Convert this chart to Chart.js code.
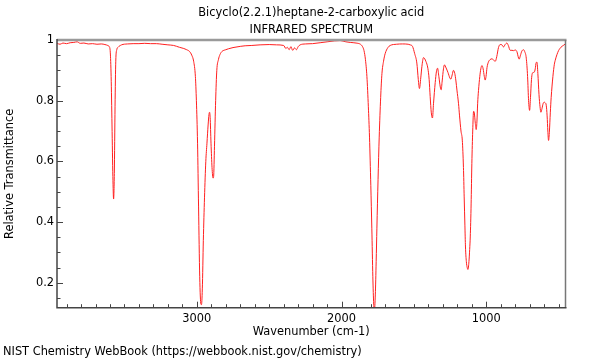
<!DOCTYPE html>
<html>
<head>
<meta charset="utf-8">
<script src="https://cdn.jsdelivr.net/npm/chart.js@4/dist/chart.umd.min.js"></script>
<style>
html,body{margin:0;padding:0;background:#fff;}
canvas{display:block;}
</style>
</head>
<body>
<canvas id="c" width="600" height="360"></canvas>
<script>
const chartTitle = ['Bicyclo(2.2.1)heptane-2-carboxylic acid', 'INFRARED SPECTRUM'];
const xAxisTitle = 'Wavenumber (cm-1)';
const yAxisTitle = 'Relative Transmittance';
const footerText = 'NIST Chemistry WebBook (https://webbook.nist.gov/chemistry)';
const xTickLabels = [3000, 2000, 1000];
const yTickLabels = [0.2, 0.4, 0.6, 0.8, 1];

const wavenumbers = [
3965,3945,3925,3900,3875,3850,3827,3805,3780,3750,3720,3690,3660,3635,3615,3605,
3598,3592,3586,3580,3575,3570,3565,3560,3553,3544,3520,3480,3440,3400,3360,3320,
3280,3240,3200,3160,3120,3090,3070,3050,3035,3022,3010,3003,2995,2988,2980,2972,
2968,2962,2955,2947,2938,2930,2922,2916,2912,2908,2902,2895,2888,2884,2878,2870,
2862,2851,2840,2827,2800,2782,2750,2700,2666,2620,2563,2500,2450,2400,2385,2375,
2362,2350,2338,2325,2312,2300,2286,2250,2200,2148,2100,2050,2010,1970,1940,1900,
1870,1855,1845,1835,1825,1815,1807,1798,1791,1784,1778,1773,1767,1761,1756,1748,
1740,1730,1721,1710,1699,1680,1664,1620,1580,1540,1526,1510,1495,1480,1470,1462,
1453,1445,1434,1417,1404,1395,1388,1380,1372,1365,1353,1345,1337,1328,1318,1312,
1305,1296,1289,1278,1265,1252,1245,1236,1227,1218,1210,1203,1192,1185,1175,1166,
1158,1153,1148,1144,1138,1132,1127,1120,1115,1111,1105,1100,1094,1088,1083,1076,
1070,1065,1060,1054,1045,1038,1030,1022,1014,1008,1002,995,985,975,961,950,
938,928,916,904,892,881,870,858,848,835,823,812,800,789,777,773,
765,755,743,735,724,715,708,701,695,688,683,676,669,662,656,650,
644,636,629,623,615,608,600,593,586,580,575,570,564,558,552,540,
530,524,512,501,490,478,465,455
];
const transmittance = [
0.989,0.986,0.990,0.988,0.991,0.992,0.994,0.989,0.990,0.987,0.988,0.986,0.987,0.985,0.982,0.978,
0.960,0.880,0.720,0.550,0.476,0.560,0.780,0.930,0.968,0.976,0.984,0.987,0.988,0.988,0.989,0.988,
0.988,0.986,0.984,0.982,0.976,0.972,0.968,0.962,0.950,0.930,0.880,0.800,0.660,0.450,0.220,0.130,
0.128,0.180,0.340,0.480,0.600,0.660,0.720,0.755,0.762,0.745,0.660,0.580,0.545,0.550,0.650,0.800,
0.900,0.935,0.952,0.962,0.968,0.971,0.975,0.979,0.981,0.982,0.984,0.985,0.984,0.982,0.972,0.976,
0.968,0.978,0.966,0.974,0.968,0.978,0.984,0.987,0.988,0.991,0.994,0.997,0.998,0.994,0.992,0.990,
0.986,0.978,0.965,0.935,0.880,0.780,0.680,0.520,0.380,0.220,0.130,0.110,0.160,0.270,0.380,0.540,
0.680,0.810,0.890,0.930,0.955,0.975,0.982,0.986,0.987,0.986,0.984,0.979,0.955,0.924,0.870,0.840,
0.875,0.913,0.942,0.929,0.907,0.870,0.814,0.760,0.743,0.790,0.860,0.895,0.907,0.880,0.845,0.836,
0.865,0.905,0.918,0.908,0.893,0.875,0.871,0.885,0.900,0.890,0.865,0.835,0.790,0.750,0.700,0.670,
0.580,0.483,0.390,0.318,0.270,0.250,0.244,0.270,0.310,0.351,0.460,0.593,0.700,0.765,0.760,0.725,
0.705,0.730,0.790,0.834,0.880,0.905,0.916,0.905,0.880,0.868,0.880,0.910,0.928,0.935,0.938,0.934,
0.930,0.945,0.975,0.985,0.984,0.977,0.985,0.990,0.982,0.966,0.966,0.965,0.967,0.962,0.940,0.937,
0.948,0.963,0.968,0.962,0.940,0.880,0.800,0.768,0.810,0.870,0.889,0.893,0.894,0.905,0.925,0.927,
0.890,0.820,0.780,0.762,0.775,0.790,0.795,0.793,0.785,0.750,0.700,0.669,0.700,0.760,0.810,0.880,
0.920,0.933,0.952,0.965,0.973,0.979,0.983,0.987
];

const FONT = '"DejaVu Sans", "Liberation Sans", sans-serif';
const FS = 11.4;
Chart.defaults.font.family = FONT;
Chart.defaults.font.size = FS;
Chart.defaults.color = '#000';

const framePlugin = {
  id: 'framePlugin',
  afterDraw(chart) {
    const {ctx, chartArea: a, scales: {x, y}} = chart;
    ctx.save();
    ctx.strokeStyle = '#444';
    ctx.lineWidth = 1;
    ctx.beginPath();
    for (let k = 5; k <= 39; k++) {
      const px = Math.round(x.getPixelForValue(k * 100)) + 0.5;
      const len = (k % 10 === 0) ? 6 : 3.5;
      ctx.moveTo(px, a.bottom);
      ctx.lineTo(px, a.bottom - len);
    }
    for (let k = 3; k <= 20; k++) {
      const py = Math.round(y.getPixelForValue(k * 0.05)) + 0.5;
      const len = (k % 4 === 0) ? 6 : 3.5;
      ctx.moveTo(a.left, py);
      ctx.lineTo(a.left + len, py);
    }
    ctx.stroke();
    ctx.lineWidth = 2.5;
    ctx.strokeStyle = '#9a9a9a';
    ctx.beginPath(); ctx.moveTo(a.left, a.top); ctx.lineTo(a.right + 1, a.top); ctx.stroke();
    ctx.lineWidth = 1.5;
    ctx.strokeStyle = '#777';
    ctx.beginPath(); ctx.moveTo(a.right, a.top); ctx.lineTo(a.right, a.bottom); ctx.stroke();
    ctx.strokeStyle = '#444';
    ctx.beginPath(); ctx.moveTo(a.left, a.top - 1); ctx.lineTo(a.left, a.bottom); ctx.lineTo(a.right + 1, a.bottom); ctx.stroke();
    ctx.fillStyle = '#000';
    ctx.font = FS + 'px ' + FONT;
    ctx.textAlign = 'left';
    ctx.textBaseline = 'middle';
    ctx.fillText(footerText, 3, 352);
    ctx.restore();
  }
};

new Chart(document.getElementById('c'), {
  type: 'line',
  data: {
    datasets: [{
      data: wavenumbers.map((w, i) => ({x: w, y: transmittance[i]})),
      borderColor: '#ff2020',
      borderWidth: 1,
      pointRadius: 0,
      fill: false,
      cubicInterpolationMode: 'monotone'
    }]
  },
  options: {
    responsive: false,
    animation: false,
    devicePixelRatio: 1,
    events: [],
    layout: {padding: {left: 0, right: 34.5, top: 0, bottom: 0}},
    plugins: {
      legend: {display: false},
      tooltip: {enabled: false},
      title: {
        display: true,
        text: chartTitle,
        fullSize: false,
        color: '#000',
        font: {size: FS, weight: 'normal', lineHeight: 17 / FS},
        padding: {top: 4.5, bottom: 1.5}
      }
    },
    scales: {
      x: {
        type: 'linear',
        reverse: true,
        min: 453,
        max: 3966,
        grid: {display: false, drawTicks: false},
        border: {display: false},
        afterBuildTicks: s => { s.ticks = xTickLabels.map(v => ({value: v})); },
        afterFit: s => { s.height = 52.3; },
        ticks: {padding: 5, maxRotation: 0, autoSkip: false, color: '#000', callback: v => String(v)},
        title: {display: true, text: xAxisTitle, color: '#000', font: {size: FS}, padding: {top: 0, bottom: 21}}
      },
      y: {
        min: 0.118,
        max: 1.0,
        grid: {display: false, drawTicks: false},
        border: {display: false},
        afterBuildTicks: s => { s.ticks = yTickLabels.map(v => ({value: v})); },
        afterFit: s => { s.width = 57; },
        ticks: {padding: 3, color: '#000', callback: v => (v === 1 ? '1' : v.toFixed(1))},
        title: {display: true, text: yAxisTitle, color: '#000', font: {size: FS}, padding: {top: 3, bottom: 0}}
      }
    }
  },
  plugins: [framePlugin]
});
</script>
</body>
</html>
